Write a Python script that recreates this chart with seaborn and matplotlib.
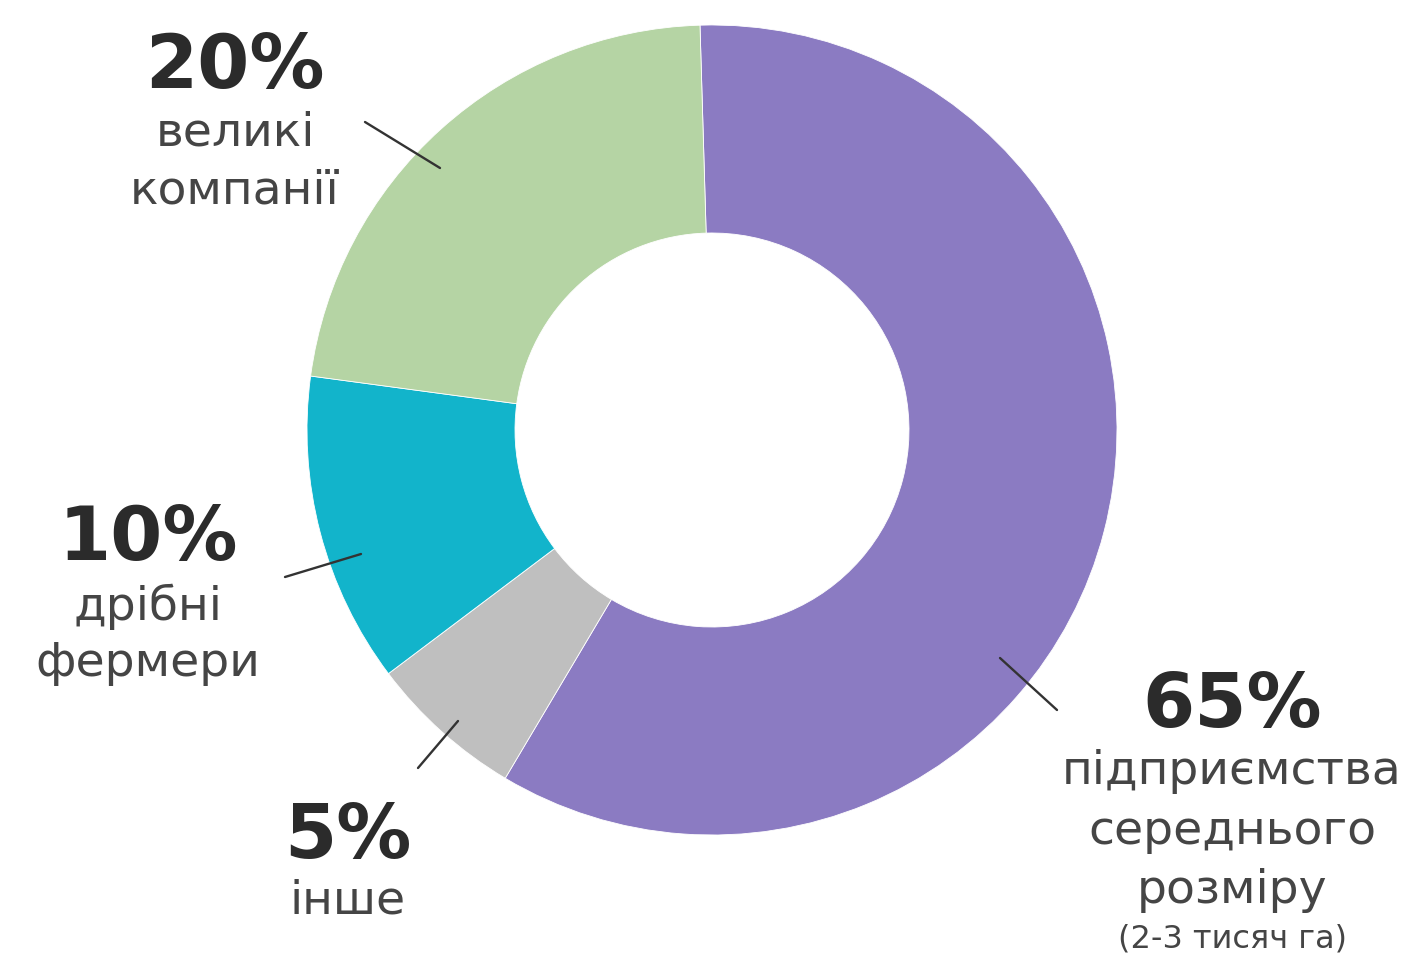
import matplotlib
matplotlib.use("Agg")
import matplotlib.pyplot as plt
import seaborn as sns

# Data (slice shares as drawn, clockwise from top) and labels
categories = ["підприємства середнього розміру", "інше", "дрібні фермери", "великі компанії"]
drawn_shares = [59.0, 6.2, 12.4, 22.4]
pct_labels = ["65%", "5%", "10%", "20%"]
colors = ["#8B7BC2", "#BFBFBF", "#12B4CB", "#B5D4A4"]

sns.set_theme(style="white")
plt.rcParams['font.family'] = ['DejaVu Sans']

W, H = 1413, 961
fig = plt.figure(figsize=(W / 100, H / 100), dpi=100)
ax = fig.add_axes([0, 0, 1, 1])
ax.set_xlim(0, W)
ax.set_ylim(0, H)
ax.axis("off")

def Y(y):
    return H - y

ax.pie(drawn_shares, colors=colors, startangle=91.7, counterclock=False,
       center=(712, Y(430)), radius=405,
       wedgeprops=dict(width=208, edgecolor="white", linewidth=0.6))
ax.set_xlim(0, W)
ax.set_ylim(0, H)
ax.set_aspect("equal")

pct_color = "#2b2b2b"
txt_color = "#454545"
pct_size = 54
txt_size = 34

def block(x, y_pct, pct, lines, line_ys, sizes=None):
    ax.text(x, Y(y_pct), pct, ha="center", va="baseline", fontsize=pct_size,
            fontweight="bold", color=pct_color)
    for i, (t, yy) in enumerate(zip(lines, line_ys)):
        s = txt_size if sizes is None else sizes[i]
        ax.text(x, Y(yy), t, ha="center", va="baseline", fontsize=s, color=txt_color)

block(235, 88, pct_labels[3], ["великі", "компанії"], [145, 203])
block(148, 560, pct_labels[2], ["дрібні", "фермери"], [620, 676])
block(348, 858, pct_labels[1], ["інше"], [913])
block(1232, 727, pct_labels[0], ["підприємства", "середнього", "розміру", "(2-3 тисяч га)"],
      [784, 844, 903, 948], sizes=[txt_size, txt_size, txt_size, 23])

# leader lines
lines = [((365, 122), (440, 168)),
         ((285, 577), (361, 554)),
         ((418, 768), (458, 721)),
         ((1000, 658), (1057, 710))]
for (x0, y0), (x1, y1) in lines:
    ax.plot([x0, x1], [Y(y0), Y(y1)], color="#333333", lw=1.7, solid_capstyle="round")

fig.savefig("out.png", dpi=100, facecolor="white")
